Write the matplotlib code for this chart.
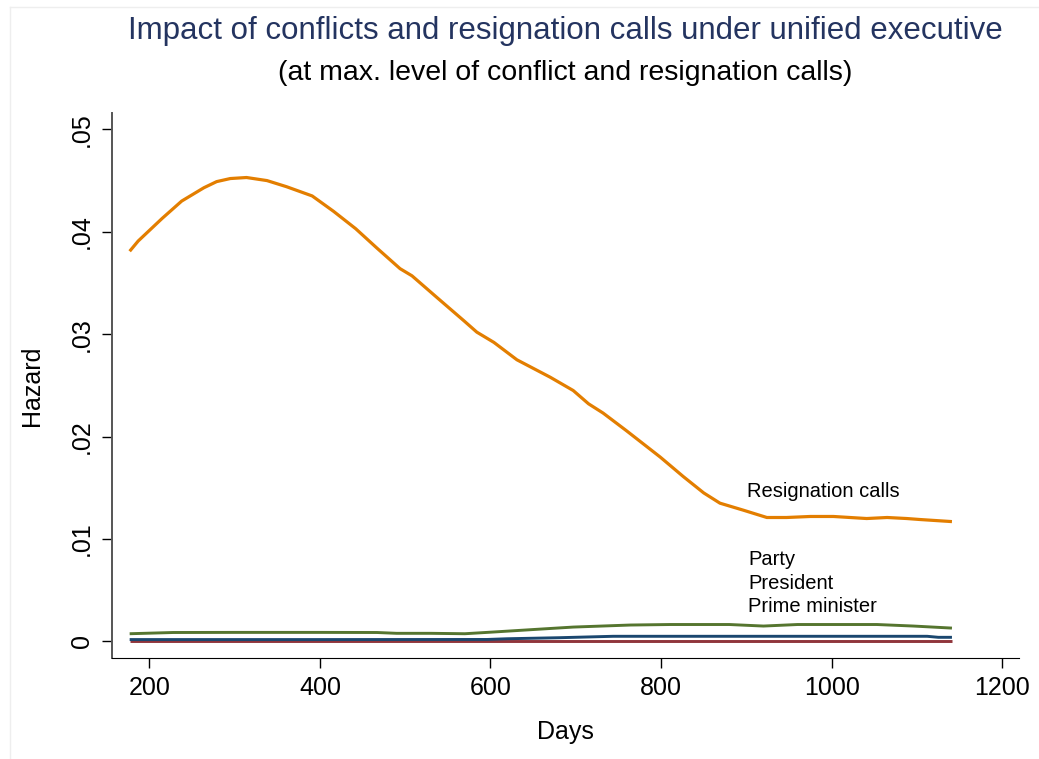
import matplotlib
matplotlib.use('Agg')
import matplotlib.pyplot as plt
from matplotlib.lines import Line2D

plt.rcParams['font.family'] = ['Liberation Sans', 'DejaVu Sans']

# resignation calls (orange)
resig_days = [177, 187, 215, 238, 264, 279, 295, 314, 338, 361, 391, 416, 442, 467,
              494, 508, 537, 569, 584, 604, 631, 670, 697, 715, 732, 759, 799, 826,
              850, 869, 897, 924, 947, 975, 1002, 1041, 1065, 1088, 1104, 1141]
resig_haz = [0.0381, 0.0391, 0.0413, 0.0430, 0.0443, 0.0449, 0.0452, 0.0453, 0.0450,
             0.0444, 0.0435, 0.0420, 0.0403, 0.0384, 0.0364, 0.0357, 0.0336, 0.0313,
             0.0302, 0.0292, 0.0275, 0.0258, 0.0245, 0.0232, 0.0223, 0.0206, 0.0180,
             0.0161, 0.0145, 0.0135, 0.0128, 0.0121, 0.0121, 0.0122, 0.0122, 0.0120,
             0.0121, 0.0120, 0.0119, 0.0117]

# party (green)
party_days = [177, 228, 300, 400, 467, 490, 530, 570, 600, 658, 697, 764, 811, 880,
              920, 960, 1053, 1096, 1141]
party_haz = [0.00075, 0.00087, 0.00088, 0.00088, 0.00087, 0.00079, 0.00079, 0.00075,
             0.0009, 0.0012, 0.0014, 0.0016, 0.00165, 0.00165, 0.0015, 0.00165,
             0.00165, 0.0015, 0.0013]

# president (blue)
pres_days = [177, 400, 596, 620, 680, 744, 900, 1112, 1125, 1141]
pres_haz = [0.00018, 0.00018, 0.00019, 0.00026, 0.00036, 0.0005, 0.0005, 0.0005,
            0.0004, 0.0004]

# prime minister (red)
pm_days = [177, 400, 600, 800, 1000, 1141]
pm_haz = [0.0, 0.0, 0.0, 0.0, 0.0, 0.0]

x_ticks = [200, 400, 600, 800, 1000, 1200]
y_ticks = [0, 0.01, 0.02, 0.03, 0.04, 0.05]
y_ticklabels = ['0', '.01', '.02', '.03', '.04', '.05']

W, H = 1039, 759
fig = plt.figure(figsize=(W / 100, H / 100), dpi=100)
ax = fig.add_axes([112 / W, 1 - 658 / H, (1019 - 112) / W, (658 - 113) / H])

ax.plot(pm_days, pm_haz, color='#90353b', lw=2.1, solid_capstyle='butt')
ax.plot(pres_days, pres_haz, color='#1a476f', lw=2.1, solid_capstyle='butt')
ax.plot(party_days, party_haz, color='#55752f', lw=2.1, solid_capstyle='butt')
ax.plot(resig_days, resig_haz, color='#e37e00', lw=2.3, solid_capstyle='butt')

ax.text(901, 0.0146, 'Resignation calls', fontsize=14.5, va='center', ha='left')
ax.text(902, 0.0080, 'Party', fontsize=14.5, va='center', ha='left')
ax.text(902, 0.0057, 'President', fontsize=14.5, va='center', ha='left')
ax.text(902, 0.0034, 'Prime minister', fontsize=14.5, va='center', ha='left')

ax.set_xlim(156.3, 1219.6)
ax.set_ylim(-0.00162, 0.0516)
ax.set_xticks(x_ticks)
ax.set_yticks(y_ticks)
ax.set_yticklabels(y_ticklabels, rotation=90, va='center')
ax.tick_params(axis='both', labelsize=18, length=7, width=1, direction='out')
ax.tick_params(axis='x', pad=6)
ax.tick_params(axis='y', pad=6)

for s in ['top', 'right']:
    ax.spines[s].set_visible(False)
ax.spines['bottom'].set_color('black')
ax.spines['left'].set_color('#555555')
ax.spines['left'].set_linewidth(1.4)

ax.set_xlabel('Days', fontsize=18, labelpad=14)
ax.set_ylabel('Hazard', fontsize=18, labelpad=19)

fig.text(565 / W, 1 - 31 / H, 'Impact of conflicts and resignation calls under unified executive',
         fontsize=22.5, color='#243460', ha='center', va='center')
fig.text(565 / W, 1 - 73 / H, '(at max. level of conflict and resignation calls)',
         fontsize=20.5, color='black', ha='center', va='center')

# faint outer border of the graph region
fig.add_artist(Line2D([10 / W, 1], [1 - 7 / H, 1 - 7 / H], color='#eeeeee', lw=1))
fig.add_artist(Line2D([10 / W, 10 / W], [0, 1 - 7 / H], color='#eeeeee', lw=1))

fig.savefig('out.png', dpi=100, facecolor='white')
